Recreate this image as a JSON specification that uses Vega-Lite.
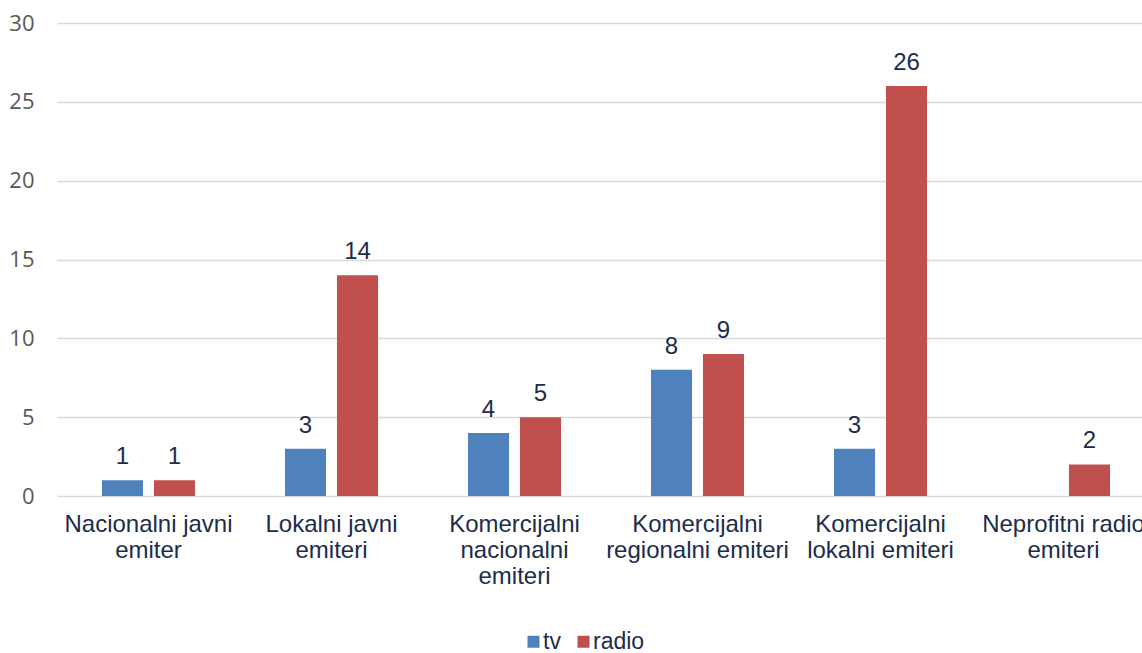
{
  "$schema": "https://vega.github.io/schema/vega-lite/v6.json",
  "width": 1098,
  "height": 473,
  "autosize": {"type": "none"},
  "padding": {"left": 57, "top": 23, "right": 0, "bottom": 157},
  "background": "white",
  "data": {
    "values": [
      {"kategorija": "Nacionalni javni emiter", "tip": "tv", "broj": 1},
      {"kategorija": "Nacionalni javni emiter", "tip": "radio", "broj": 1},
      {"kategorija": "Lokalni javni emiteri", "tip": "tv", "broj": 3},
      {"kategorija": "Lokalni javni emiteri", "tip": "radio", "broj": 14},
      {"kategorija": "Komercijalni nacionalni emiteri", "tip": "tv", "broj": 4},
      {"kategorija": "Komercijalni nacionalni emiteri", "tip": "radio", "broj": 5},
      {"kategorija": "Komercijalni regionalni emiteri", "tip": "tv", "broj": 8},
      {"kategorija": "Komercijalni regionalni emiteri", "tip": "radio", "broj": 9},
      {"kategorija": "Komercijalni lokalni emiteri", "tip": "tv", "broj": 3},
      {"kategorija": "Komercijalni lokalni emiteri", "tip": "radio", "broj": 26},
      {"kategorija": "Neprofitni radio emiteri", "tip": "radio", "broj": 2}
    ]
  },
  "encoding": {
    "x": {
      "field": "kategorija",
      "type": "nominal",
      "sort": null,
      "scale": {"paddingInner": 0, "paddingOuter": 0},
      "axis": {
        "title": null,
        "labelAngle": 0,
        "domain": false,
        "ticks": false,
        "labelPadding": 16,
        "labelFont": "Liberation Sans",
        "labelFontSize": 24,
        "labelColor": "#1b2d4b",
        "labelLineHeight": 26,
        "labelLimit": 250,
        "labelOverlap": false,
        "labelExpr": "datum.label == 'Nacionalni javni emiter' ? ['Nacionalni javni', 'emiter'] : datum.label == 'Lokalni javni emiteri' ? ['Lokalni javni', 'emiteri'] : datum.label == 'Komercijalni nacionalni emiteri' ? ['Komercijalni', 'nacionalni', 'emiteri'] : datum.label == 'Komercijalni regionalni emiteri' ? ['Komercijalni', 'regionalni emiteri'] : datum.label == 'Komercijalni lokalni emiteri' ? ['Komercijalni', 'lokalni emiteri'] : ['Neprofitni radio', 'emiteri']"
      }
    },
    "xOffset": {
      "field": "tip",
      "type": "nominal",
      "sort": ["tv", "radio"],
      "scale": {"domain": ["tv", "radio"], "paddingInner": 0.21, "paddingOuter": 0.865}
    },
    "y": {
      "field": "broj",
      "type": "quantitative",
      "scale": {"domain": [0, 30]},
      "axis": {
        "title": null,
        "values": [0, 5, 10, 15, 20, 25, 30],
        "domain": false,
        "ticks": false,
        "labelPadding": 23,
        "labelFont": "Open Sans",
        "labelFontSize": 22,
        "labelColor": "#595959",
        "gridColor": "#d9d9d9",
        "gridWidth": 1.5
      }
    }
  },
  "layer": [
    {
      "mark": {"type": "bar"},
      "encoding": {
        "color": {
          "field": "tip",
          "type": "nominal",
          "scale": {"domain": ["tv", "radio"], "range": ["#4f81bd", "#c0504d"]},
          "legend": {
            "title": null,
            "orient": "none",
            "direction": "horizontal",
            "legendX": 465,
            "legendY": 607,
            "symbolType": "square",
            "symbolSize": 144,
            "symbolStrokeWidth": 0,
            "labelFont": "Liberation Sans",
            "labelFontSize": 23,
            "labelColor": "#1b2d4b",
            "labelOffset": -2,
            "columnPadding": 11
          }
        }
      }
    },
    {
      "mark": {"type": "text", "baseline": "alphabetic", "dy": -16, "font": "Liberation Sans", "fontSize": 24, "color": "#1b2d4b"},
      "encoding": {
        "text": {"field": "broj", "type": "quantitative"}
      }
    }
  ],
  "config": {"view": {"stroke": null}}
}
